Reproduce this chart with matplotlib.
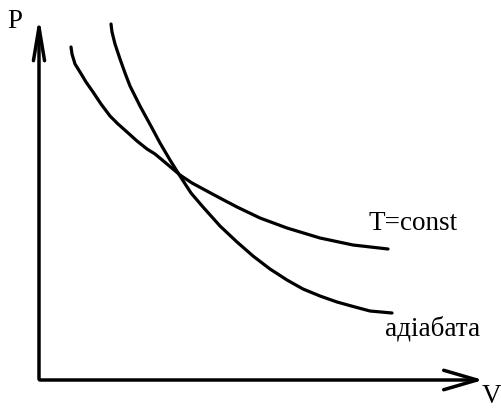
import numpy as np
import matplotlib
matplotlib.use('Agg')
import matplotlib.pyplot as plt

# P-V діаграма: ізотерма та адіабата (координати в пікселях картинки)
isotherm_v = [71, 72, 75, 80, 86, 93, 101, 110, 118, 127, 137, 147, 155, 167, 180, 192, 205, 218, 237, 260, 287, 320, 353, 388]
isotherm_p = [48, 55, 65, 73, 83, 93, 105, 117, 125, 133, 142, 150, 155, 165, 176, 184, 191, 198, 208, 219, 229, 239, 246, 250]

adiabat_v = [111, 112, 115, 120, 125, 130, 140, 152, 160, 170, 180, 191, 203, 220, 237, 253, 270, 287, 303, 320, 337, 355, 370, 392]
adiabat_p = [25, 33, 45, 60, 74, 87, 107, 129, 144, 161, 177, 194, 208, 227, 243, 257, 270, 281, 290, 297, 303, 308, 312, 314]

label_iso = 'T=const'
label_adi = 'адіабата'

fig = plt.figure(figsize=(5.02, 4.10), dpi=100)
ax = fig.add_axes([0, 0, 1, 1])
ax.set_xlim(0, 502)
ax.set_ylim(410, 0)
ax.axis('off')

# осі зі стрілками
ax.annotate('', xy=(39, 15), xytext=(39, 383),
            arrowprops=dict(arrowstyle='->,head_length=2.4,head_width=0.4', lw=2.5, color='black'))
ax.annotate('', xy=(486, 381), xytext=(37, 381),
            arrowprops=dict(arrowstyle='->,head_length=2.4,head_width=0.7', lw=2.5, color='black'))

ax.plot(isotherm_v, isotherm_p, color='black', lw=2.3, solid_capstyle='round', solid_joinstyle='round')
ax.plot(adiabat_v, adiabat_p, color='black', lw=2.3, solid_capstyle='round', solid_joinstyle='round')

font = dict(family='Liberation Serif', fontsize=19.5, color='black')
ax.text(15, 21, 'P', ha='center', va='center', **font)
ax.text(492, 397, 'V', ha='center', va='center', **font)
ax.text(413, 224, label_iso, ha='center', va='center', **font)
ax.text(433, 329, label_adi, ha='center', va='center', **font)

plt.savefig('out.png', dpi=100)
